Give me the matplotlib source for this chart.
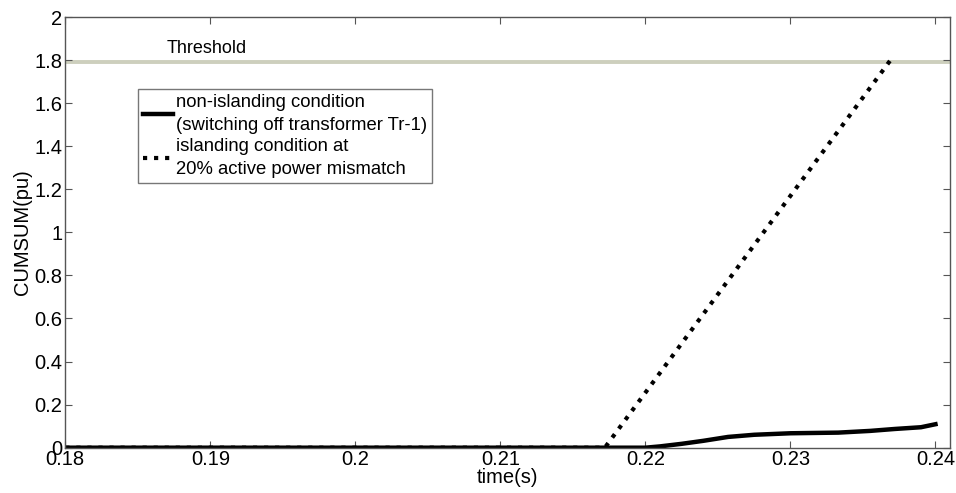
import matplotlib
matplotlib.use("Agg")
import matplotlib.pyplot as plt

plt.rcParams["font.family"] = ["Liberation Sans", "DejaVu Sans"]

# Données
t_non_island = [0.18, 0.22, 0.221, 0.2225, 0.224, 0.2257, 0.2275, 0.23, 0.2333, 0.2355, 0.2372, 0.239, 0.24]
cumsum_non_island = [0, 0, 0.006, 0.018, 0.032, 0.05, 0.06, 0.067, 0.07, 0.078, 0.087, 0.095, 0.109]

t_island = [0.18, 0.2172, 0.2369]
cumsum_island = [0, 0, 1.8]

threshold = 1.79
xticks = [0.18, 0.19, 0.2, 0.21, 0.22, 0.23, 0.24]
yticks = [0, 0.2, 0.4, 0.6, 0.8, 1, 1.2, 1.4, 1.6, 1.8, 2]

fig = plt.figure(figsize=(9.56, 4.93), dpi=100)
ax = fig.add_axes([0.0683, 0.0919, 0.9254, 0.8736])

ax.axhline(threshold, color="#cdcfbd", linewidth=2.8, zorder=1)
ax.text(0.1870, 1.855, "Threshold", fontsize=13, va="center", ha="left")

ax.plot(t_non_island, cumsum_non_island, color="black", linewidth=3.2,
        label="non-islanding condition\n(switching off transformer Tr-1)")
ax.plot(t_island, cumsum_island, color="black", linewidth=3, linestyle=":",
        label="islanding condition at\n20% active power mismatch")

ax.set_xlim(0.18, 0.241)
ax.set_ylim(0, 2)
ax.set_xticks(xticks)
ax.set_xticklabels(["0.18", "0.19", "0.2", "0.21", "0.22", "0.23", "0.24"])
ax.set_yticks(yticks)
ax.set_yticklabels(["0", "0.2", "0.4", "0.6", "0.8", "1", "1.2", "1.4", "1.6", "1.8", "2"])
ax.tick_params(direction="in", top=True, right=True, labelsize=14.5, length=5,
               color="#555555", pad=2)
for s in ax.spines.values():
    s.set_color("#555555")
    s.set_linewidth(1)

ax.set_xlabel("time(s)", fontsize=14.5, labelpad=-1)
ax.set_ylabel("CUMSUM(pu)", fontsize=14.5, labelpad=2)

leg = ax.legend(loc="upper left", bbox_to_anchor=(0.082, 0.833), fontsize=13.3,
                frameon=True, fancybox=False, edgecolor="#555555",
                handlelength=1.6, handletextpad=0.15, borderpad=0.3,
                labelspacing=0.2, borderaxespad=0)
leg.get_frame().set_linewidth(1)
for txt in leg.get_texts():
    txt.set_linespacing(1.45)

fig.savefig("out.png", dpi=100)
